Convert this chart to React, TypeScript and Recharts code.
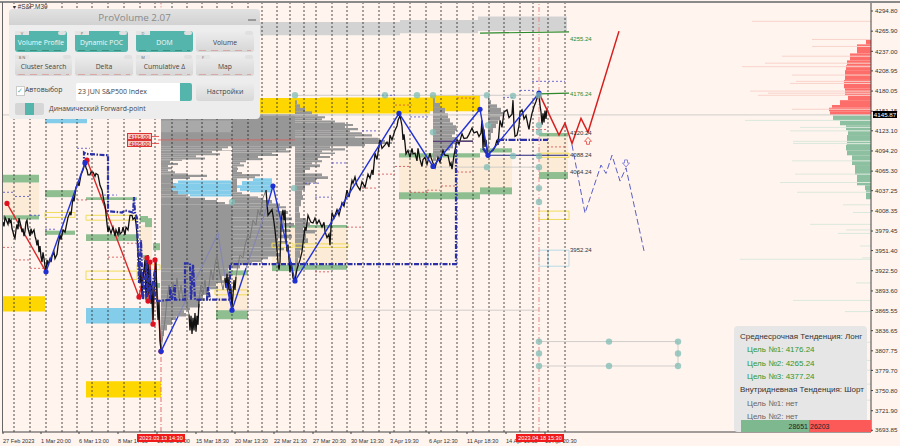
import {
	ComposedChart,
	Line,
	Scatter,
	XAxis,
	YAxis,
	ReferenceArea,
	ReferenceLine,
	ReferenceDot,
} from "recharts";

type Pair = [number, number];
type Zone = [number, number, number, number];
type Dash = [number, number, number];

const priceTicks = [
	4294.8, 4265.9, 4237.0, 4208.95, 4180.05, 4151.15, 4123.1, 4094.2, 4065.3, 4037.25, 4008.35,
	3979.45, 3951.4, 3922.5, 3893.6, 3865.55, 3836.65, 3807.75, 3779.7, 3750.8, 3721.9, 3693.85,
];
const timeBars = [3, 41, 79, 118, 157, 196, 235, 274, 313, 351, 390, 429, 467, 506, 545];
const timeLabels = [
	"27 Feb 2023", "1 Mar 20:00", "6 Mar 13:00", "8 Mar 17:00", "13 Mar 13:00", "15 Mar 18:30", "20 Mar 13:30",
	"22 Mar 21:30", "27 Mar 20:30", "30 Mar 13:30", "3 Apr 19:30", "6 Apr 12:30", "11 Apr 18:30", "14 Apr 16:30", "19 Apr 20:30",
];
const sessionBars = [
	14, 30, 46, 62, 77, 92, 108, 124, 140, 155, 172, 187, 202, 217, 232, 248, 262, 277, 290, 304, 316, 332, 347,
	363, 379, 394, 410, 426, 441, 457, 473, 489, 504, 520, 533, 548, 565,
];

// x1, x2, top, bottom
const grayZones: Zone[] = [[260, 400, 4279, 4260], [400, 478, 4282, 4263], [478, 567, 4287, 4266]];
const goldZones: Zone[] = [
	[3, 45, 3886, 3864], [86, 161, 3764, 3741], [260, 320, 4170, 4148], [320, 430, 4171, 4148], [430, 480, 4174, 4151],
];
const skyZones: Zone[] = [[86, 152, 3869, 3847], [45, 87, 4140, 4134]];
const creamZones: Zone[] = [
	[3, 39, 4049, 4002], [140, 152, 3988, 3938], [216, 248, 3916, 3866], [272, 347, 3988, 3931], [399, 512, 4085, 4035], [539, 568, 4115, 4064],
];
const greenZones: Zone[] = [
	[3, 39, 4060, 4049], [3, 39, 4002, 3996], [45, 75, 4038, 4028], [45, 75, 3980, 3974], [86, 137, 4028, 4024],
	[86, 137, 3975, 3965], [140, 148, 4001, 3992], [145, 152, 3998, 3985], [153, 160, 3962, 3952], [143, 148, 3945, 3938],
	[156, 160, 3905, 3898], [216, 248, 3923, 3916], [216, 248, 3866, 3853], [272, 347, 3988, 3984], [272, 300, 3931, 3922],
	[300, 347, 3931, 3924], [399, 480, 4035, 4025], [480, 512, 4042, 4032], [399, 480, 4091, 4085], [480, 512, 4098, 4092],
	[539, 568, 4120, 4115], [539, 568, 4064, 4054],
];
const yellowBoxes: Zone[] = [
	[45, 75, 4006, 3999], [86, 137, 4002, 3995], [86, 137, 3922, 3910], [137, 160, 3931, 3924], [215, 248, 3895, 3888],
	[272, 293, 3962, 3956], [295, 348, 3961, 3956], [539, 548, 4091, 4085], [548, 569, 4091, 4085], [539, 548, 4008, 3996], [548, 569, 4008, 3996],
];
const paleBlueBoxes: Zone[] = [[539, 548, 3952, 3929], [548, 569, 3952, 3929]];
const fadedBand: Zone[] = [[161, 232, 4138, 4121]];

// volume profiles: price of row top, bar where the row ends
const profileAStart = 161;
const profileA: Pair[] = [
	[4140, 232], [4101, 228], [4098, 222], [4095, 232], [4094, 212], [4091, 220], [4088, 196], [4085, 205], [4082, 182],
	[4080, 170], [4077, 178], [4074, 168], [4071, 172], [4068, 168], [4065, 175], [4062, 188], [4060, 207], [4057, 190],
	[4054, 173], [4048, 176], [4041, 172], [4037, 178], [4032, 186], [4029, 190], [4027, 205], [4024, 217], [4021, 225],
	[4018, 232], [3926, 228], [3921, 232], [3915, 222], [3909, 224], [3905, 216], [3900, 218], [3896, 208], [3892, 210],
	[3888, 203], [3883, 205], [3879, 198], [3875, 200], [3870, 190], [3866, 184], [3862, 186], [3857, 176], [3852, 172],
	[3845, 167], [3837, 164], [3829, 162], [3820, 161],
];
const profileBStart = 232;
const profileB: Pair[] = [
	[4147, 295], [4101, 292], [4098, 286], [4095, 290], [4092, 272], [4090, 278], [4087, 258], [4084, 262], [4081, 246],
	[4078, 240], [4075, 244], [4072, 237], [4070, 238], [4067, 237], [4064, 242], [4061, 260], [4058, 255], [4055, 237],
	[4035, 242], [4032, 250], [4029, 258], [4027, 263], [4024, 272], [4019, 280], [4015, 286], [4012, 278], [4008, 288],
	[4004, 282], [3999, 292], [3995, 284], [3991, 294], [3986, 282], [3982, 290], [3978, 280], [3974, 292], [3969, 278],
	[3965, 288], [3961, 280], [3956, 284], [3952, 276], [3948, 280], [3943, 268], [3939, 262], [3935, 252], [3931, 240], [3926, 232],
];
const profileCStart = 295;
const profileC: Pair[] = [
	[4167, 297], [4161, 300], [4156, 305], [4151, 312], [4147, 318], [4144, 325], [4141, 322], [4138, 335], [4135, 345],
	[4133, 353], [4130, 345], [4127, 358], [4124, 350], [4121, 362], [4118, 372], [4115, 355], [4113, 378], [4110, 385],
	[4107, 392], [4104, 365], [4101, 330], [4098, 345], [4095, 322], [4092, 335], [4090, 320], [4087, 330], [4084, 318],
	[4081, 322], [4078, 312], [4075, 320], [4071, 310], [4067, 305], [4062, 322], [4058, 328], [4054, 316], [4049, 310],
	[4045, 305], [4038, 302], [4031, 303], [4024, 301], [4015, 299], [4006, 300], [3998, 306], [3992, 310], [3986, 303],
	[3981, 315], [3976, 306], [3969, 308], [3962, 303], [3952, 300], [3941, 298], [3926, 296], [3912, 295],
];
const profileDStart = 433;
const profileD: Pair[] = [
	[4170, 435], [4163, 440], [4156, 445], [4148, 448], [4141, 450], [4135, 453], [4131, 456], [4127, 457], [4123, 455],
	[4118, 452], [4114, 456], [4110, 473], [4108, 458], [4104, 453], [4098, 450], [4095, 445], [4091, 440], [4085, 436], [4080, 433],
];
const profileEStart = 488;
const profileE: Pair[] = [
	[4174, 489], [4167, 491], [4161, 497], [4156, 501], [4150, 503], [4144, 500], [4138, 498], [4133, 496], [4127, 493], [4120, 491], [4110, 489], [4095, 488],
];
const skyRowsA: Pair[] = [[4052, 178], [4048, 173], [4044, 176], [4041, 172], [4037, 178], [4032, 190], [4029, 232]];
const skyRowsB: Pair[] = [[4055, 253], [4051, 242], [4045, 237], [4041, 240], [4037, 250], [4035, 272]];

// order book on the right: price of row top, bar where the row starts
const askRows: Pair[] = [
	[4254, 866], [4247, 857], [4234, 850], [4224, 847], [4217, 846], [4210, 845], [4196, 844], [4184, 845], [4174, 848],
	[4167, 840], [4160, 832], [4156, 829], [4151, 830], [4146, 871],
];
const bidRows: Pair[] = [
	[4145, 833], [4138, 840], [4131, 846], [4124, 848], [4117, 847], [4103, 846], [4095, 847], [4088, 852], [4074, 855],
	[4060, 857], [4045, 865], [4038, 866], [4025, 871],
];
const askSpikes: Pair[] = [
	[4280, 752], [4254, 812], [4244, 812], [4230, 782], [4220, 765], [4215, 742], [4203, 792], [4194, 796], [4191, 790],
	[4180, 750], [4177, 768], [4174, 758], [4154, 792],
];
const bidSpikes: Pair[] = [
	[4138, 745], [4128, 800], [4123, 790], [4108, 793], [4105, 793], [4080, 792], [4061, 795], [4049, 780], [4035, 797],
	[4017, 843], [4006, 853], [3989, 810], [3981, 846], [3976, 838], [3958, 860], [3941, 862], [3939, 740], [3905, 856],
	[3880, 793], [3864, 845], [3820, 833], [3794, 832], [3780, 848], [3760, 820], [3737, 855],
];

// x1, x2, price
const blueDashes: Dash[] = [
	[3, 14, 4035], [15, 30, 4029], [30, 40, 4002], [45, 57, 3982], [100, 117, 4031], [77, 90, 4098], [362, 378, 4123],
	[332, 348, 4077], [305, 320, 4048], [315, 332, 4028], [410, 428, 4143], [378, 395, 4174], [532, 565, 4194],
	[520, 533, 4181], [503, 513, 4171],
];
const redDashes: Dash[] = [
	[3, 12, 3956], [15, 30, 3938], [30, 45, 3926], [77, 87, 4024], [108, 123, 3942], [127, 137, 3962], [378, 395, 4061],
	[362, 378, 4041], [347, 363, 3985], [315, 332, 3921], [395, 410, 4072], [410, 428, 4035], [427, 440, 4038],
	[441, 455, 4044], [457, 473, 4064], [395, 412, 4160], [457, 475, 4170], [532, 547, 4125], [547, 565, 4100],
];
const grayLevels: Dash[] = [
	[2, 871, 4145.87], [295, 540, 4174], [433, 539, 4071], [232, 539, 3866], [539, 678, 3821], [539, 678, 3786],
];
const tealDots: Pair[] = [
	[295, 4174], [385, 4174], [417, 4174], [433, 4174], [487, 4174], [513, 4173], [539, 4174], [433, 4121], [488, 4131],
	[539, 4131], [539, 4121], [513, 4087], [539, 4087], [487, 4071], [539, 4071], [539, 4041], [539, 4021], [294, 4041],
	[232, 4021], [539, 3821], [609, 3821], [678, 3821], [539, 3804], [678, 3804], [539, 3786], [609, 3786], [678, 3786],
];

const redSwings: Pair[] = [[7, 4019], [46, 3921]];
const blueSwingUp: Pair[] = [[46, 3921], [85, 4077]];
const redSwingsDown: Pair[] = [
	[87, 4081], [139, 3885], [147, 3941], [148, 3879], [150, 3935], [153, 3846], [155, 3938], [161, 3807],
];
const blueSwingStart: Pair[] = [[161, 3807], [178, 3857]];
const blueSwingHiddenA: Pair[] = [[178, 3857], [218, 3976], [226, 3905]];
const blueSwingLow: Pair[] = [[226, 3905], [232, 3866], [246, 3926]];
const blueSwingHiddenB: Pair[] = [[246, 3926], [267, 4014]];
const blueSwings: Pair[] = [
	[267, 4014], [273, 4044], [295, 3908], [399, 4148], [433, 4072], [480, 4154], [488, 4088], [539, 4177],
];
const blueVertices: Pair[] = [
	[46, 3921], [85, 4077], [161, 3807], [232, 3866], [273, 4044], [295, 3908], [399, 4148], [433, 4072], [480, 4154], [488, 4088], [539, 4177],
];
const redDotsList: Pair[] = [
	[7, 4019], [87, 4081], [139, 3885], [147, 3941], [148, 3879], [150, 3935], [153, 3846], [155, 3938], [161, 3807],
];
const forecastRed: Pair[] = [[539, 4177], [559, 4117], [565, 4134], [572, 4105], [581, 4141], [588, 4121], [619, 4266]];
const forecastBlue: Pair[] = [[572, 4103], [585, 4005], [601, 4074], [606, 4062], [612, 4088], [620, 4051], [626, 4070], [644, 3951]];

const pocPath: Pair[] = [
	[84, 4074], [84, 4092], [86, 4090], [108, 4088], [108, 4008], [122, 4006], [125, 4009], [133, 4006], [134, 4028],
	[135, 4006], [137, 3998], [139, 3905], [141, 3966], [143, 3881], [147, 3941], [147, 3885], [150, 3924], [150, 3881],
	[155, 3924], [155, 3881], [158, 3879], [170, 3881], [170, 3899], [172, 3881], [175, 3902], [175, 3881], [185, 3881],
	[185, 3933], [190, 3933], [191, 3881], [193, 3931], [195, 3881], [207, 3881], [208, 3899], [210, 3881], [230, 3881],
	[230, 3932], [310, 3932], [456, 3932], [456, 4105],
];
const pocPathLate: Pair[] = [[483, 4098], [488, 4088]];
const pocLevel: Pair[] = [[497, 4110], [548, 4110]];
const navyLevel: Pair[] = [[488, 4088], [568, 4088]];
const purpleLevel: Pair[] = [[433, 4108], [473, 4108]];

const priceMain: Pair[] = [
	[3, 3992], [4, 3986], [5, 3999], [6, 3996], [8, 3989], [9, 3998], [10, 3992], [11, 3995], [12, 3983], [13, 3978], [14, 3972], [15, 3969],
	[16, 3981], [17, 3989], [18, 3982], [19, 3998], [20, 3992], [21, 3986], [22, 3978], [23, 3983], [24, 3972], [25, 3979], [26, 3992], [27, 3995],
	[28, 3983], [29, 3978], [30, 3972], [31, 3983], [32, 3976], [34, 3981], [35, 3972], [36, 3967], [37, 3959], [38, 3967], [39, 3949], [40, 3958],
	[41, 3943], [42, 3935], [43, 3949], [44, 3940], [45, 3929], [46, 3921], [47, 3938], [48, 3932], [50, 3940], [51, 3935], [52, 3943], [54, 3949],
	[55, 3940], [57, 3946], [58, 3958], [60, 3974], [61, 3967], [63, 3981], [65, 3978], [67, 3992], [68, 3999], [70, 4006], [71, 4002], [73, 4028],
	[74, 4022], [76, 4042], [78, 4049], [79, 4044], [81, 4060], [83, 4067], [85, 4077], [86, 4070], [87, 4067], [88, 4060], [90, 4060], [91, 4064],
	[93, 4064], [95, 4058], [96, 4062], [98, 4060], [100, 4045], [102, 4038], [104, 4022], [105, 4017], [106, 4004], [107, 3990], [108, 3978], [109, 3985],
	[111, 3976], [113, 3985], [115, 3972], [116, 3981], [118, 3974], [119, 3985], [120, 3975], [122, 3978], [123, 3985], [125, 3974], [126, 3985], [128, 3981],
	[129, 3992], [130, 4002], [132, 4002], [133, 3996], [135, 3999], [136, 3990], [137, 3975], [138, 3950], [139, 3930], [140, 3905], [141, 3925], [142, 3885],
	[143, 3912], [145, 3938], [146, 3881], [147, 3909], [148, 3945], [149, 3888], [150, 3924], [151, 3875], [152, 3902], [153, 3852], [154, 3895], [156, 3935],
	[157, 3881], [158, 3852], [159, 3881], [160, 3823], [161, 3809],
];
const priceFaintA: Pair[] = [
	[161, 3809], [163, 3831], [165, 3852], [167, 3881], [169, 3902], [171, 3881], [173, 3906], [175, 3888], [177, 3912], [179, 3883], [181, 3902], [183, 3881],
	[185, 3895], [187, 3875], [189, 3860],
];
const priceLowA: Pair[] = [
	[189, 3860], [190, 3837], [191, 3858], [192, 3832], [193, 3855], [194, 3837], [195, 3862], [196, 3835], [197, 3858], [198, 3845], [199, 3881],
];
const priceFaintB: Pair[] = [
	[199, 3881], [201, 3902], [203, 3888], [205, 3909], [207, 3881], [209, 3902], [211, 3924], [213, 3909], [215, 3931], [217, 3945], [219, 3924], [221, 3909],
	[223, 3895], [225, 3912],
];
const priceLowB: Pair[] = [
	[225, 3912], [226, 3898], [227, 3918], [228, 3895], [229, 3914], [230, 3881], [231, 3898], [232, 3869], [233, 3888], [234, 3909], [235, 3895], [236, 3914],
];
const priceFaintC: Pair[] = [
	[236, 3914], [238, 3931], [240, 3945], [243, 3941], [245, 3959], [248, 3974], [250, 3969], [253, 3995], [256, 3988], [258, 4010], [260, 4002], [263, 4027], [266, 4038],
];
const priceLate: Pair[] = [
	[266, 4038], [268, 4002], [270, 4006], [272, 4010], [273, 4002], [274, 3992], [275, 3981], [276, 3966], [277, 3952], [278, 3935], [279, 3924], [280, 3935],
	[281, 3988], [282, 4002], [283, 4010], [284, 3995], [285, 4010], [286, 3970], [287, 3950], [288, 3960], [289, 3938], [290, 3920], [291, 3935], [292, 3925],
	[293, 3912], [295, 3908], [297, 3925], [300, 3938], [302, 3950], [303, 3962], [305, 3985], [306, 3980], [308, 4002], [310, 3995], [311, 3992], [313, 3991],
	[315, 3998], [317, 3990], [319, 3995], [322, 3985], [324, 3992], [325, 3979], [327, 3970], [329, 3975], [330, 3959], [331, 3985], [332, 4006], [334, 3998],
	[337, 4010], [339, 4002], [342, 4020], [344, 4015], [347, 4038], [349, 4028], [352, 4052], [353, 4048], [355, 4057], [357, 4045], [360, 4038], [362, 4050],
	[365, 4042], [368, 4061], [370, 4055], [372, 4067], [373, 4060], [375, 4091], [377, 4082], [380, 4110], [382, 4098], [385, 4103], [387, 4107], [389, 4100],
	[390, 4117], [392, 4110], [395, 4124], [397, 4130], [398, 4138], [400, 4145], [402, 4130], [403, 4110], [404, 4118], [405, 4105], [406, 4090], [408, 4095],
	[410, 4085], [412, 4098], [413, 4090], [415, 4091], [417, 4080], [418, 4098], [420, 4082], [422, 4072], [423, 4082], [425, 4085], [427, 4075], [430, 4091],
	[431, 4085], [433, 4077], [435, 4070], [438, 4085], [440, 4078], [443, 4095], [445, 4088], [448, 4088], [450, 4074], [451, 4077], [452, 4068], [454, 4088],
	[455, 4095], [457, 4110], [459, 4104], [462, 4119], [464, 4112], [467, 4113], [469, 4118], [472, 4127], [474, 4120], [477, 4122], [479, 4115], [481, 4120],
	[482, 4138], [483, 4098], [484, 4125], [485, 4100], [486, 4110], [488, 4085], [490, 4092], [493, 4095], [495, 4100], [497, 4110], [498, 4103], [500, 4138],
	[502, 4128], [504, 4150], [507, 4153], [509, 4142], [512, 4147], [513, 4167], [514, 4130], [515, 4115], [517, 4117], [519, 4130], [520, 4150], [522, 4153],
	[524, 4140], [526, 4145], [528, 4131], [529, 4125], [530, 4135], [532, 4148], [534, 4158], [536, 4165], [538, 4174], [539, 4176], [540, 4160], [541, 4150],
	[542, 4132], [543, 4148], [544, 4135], [545, 4152], [546, 4140], [547, 4156],
];

const levelLabels: { bar: number; price: number; text: string; color: string }[] = [
	{ bar: 570, price: 4255.24, text: "4255.24", color: "#2b8a2b" },
	{ bar: 570, price: 4176.24, text: "4176.24", color: "#2b8a2b" },
	{ bar: 570, price: 4120.24, text: "4120.24", color: "#333" },
	{ bar: 570, price: 4088.24, text: "4088.24", color: "#333" },
	{ bar: 570, price: 4064.24, text: "4064.24", color: "#333" },
	{ bar: 570, price: 3952.24, text: "3952.24", color: "#333" },
];

const topButtons = [
	{ text: "Volume Profile", left: 15, width: 52, top: 31, on: true, tag: "V" },
	{ text: "Dynamic POC", left: 75, width: 53, top: 31, on: true, tag: "P" },
	{ text: "DOM", left: 136, width: 57, top: 31, on: true, tag: "D" },
	{ text: "Volume", left: 196, width: 58, top: 31, on: false, tag: "" },
	{ text: "Cluster Search", left: 15, width: 57, top: 55, on: false, tag: "B N" },
	{ text: "Delta", left: 75, width: 58, top: 55, on: false, tag: "" },
	{ text: "Cumulative Δ", left: 136, width: 57, top: 55, on: false, tag: "M" },
	{ text: "Map", left: 196, width: 58, top: 55, on: false, tag: "F" },
];
const trendLines = [
	{ text: "Среднесрочная Тенденция: Лонг", color: "#333", indent: 0 },
	{ text: "Цель №1: 4176.24", color: "#2f962f", indent: 7 },
	{ text: "Цель №2: 4265.24", color: "#2f962f", indent: 7 },
	{ text: "Цель №3: 4377.24", color: "#2f962f", indent: 7 },
	{ text: "Внутридневная Тенденция: Шорт", color: "#333", indent: 0 },
	{ text: "Цель №1: нет", color: "#666", indent: 7 },
	{ text: "Цель №2: нет", color: "#666", indent: 7 },
];

const toPoints = (list: Pair[]) => list.map(([x, y]) => ({ x, y }));

function rowAreas(rows: Pair[], start: number, fill: string, key: string) {
	return rows.slice(0, -1).map(([price, end], i) => (
		<ReferenceArea key={`${key}-${i}`} x1={start} x2={end} y1={rows[i + 1][0]} y2={price} fill={fill} fillOpacity={1} stroke='none' />
	));
}

function skyAreas(rows: Pair[], end: number, key: string) {
	return rows.slice(0, -1).map(([price, start], i) => (
		<ReferenceArea key={`${key}-${i}`} x1={start} x2={end} y1={rows[i + 1][0]} y2={price} fill='#84cdea' fillOpacity={1} stroke='none' />
	));
}

function bookAreas(rows: Pair[], fill: string, key: string) {
	return rows.slice(0, -1).map(([price, start], i) => (
		<ReferenceArea key={`${key}-${i}`} x1={start} x2={871} y1={rows[i + 1][0]} y2={price} fill={fill} fillOpacity={1} stroke='none' />
	));
}

function zoneAreas(zones: Zone[], fill: string, key: string, stroke = "none") {
	return zones.map(([x1, x2, top, bottom], i) => (
		<ReferenceArea key={`${key}-${i}`} x1={x1} x2={x2} y1={bottom} y2={top} fill={fill} fillOpacity={fill === "none" ? 0 : 1} stroke={stroke} strokeWidth={1} />
	));
}

function segments(dashes: Dash[], stroke: string, key: string, dash?: string, width = 0.8) {
	return dashes.map(([x1, x2, price], i) => (
		<ReferenceLine
			key={`${key}-${i}`}
			segment={[{ x: x1, y: price }, { x: x2, y: price }]}
			stroke={stroke}
			strokeWidth={width}
			strokeDasharray={dash}
		/>
	));
}

function spikes(rows: Pair[], stroke: string, key: string) {
	return rows.map(([price, start], i) => (
		<ReferenceLine key={`${key}-${i}`} segment={[{ x: start, y: price }, { x: 871, y: price }]} stroke={stroke} strokeWidth={1} />
	));
}

function TimeTick({ x, y, payload }: any) {
	const label = timeLabels[timeBars.indexOf(payload.value)];
	return (
		<text x={x} y={y + 7} fontSize={5.6} fontFamily='Liberation Sans' fill='#333' textAnchor='start'>
			{label}
		</text>
	);
}

function line(list: Pair[], stroke: string, width: number, key: string, dash?: string) {
	return (
		<Line
			key={key}
			data={toPoints(list)}
			dataKey='y'
			type='linear'
			stroke={stroke}
			strokeWidth={width}
			strokeDasharray={dash}
			dot={false}
			isAnimationActive={false}
			legendType='none'
		/>
	);
}

function Panel() {
	return (
		<div style={{ position: "absolute", left: 9, top: 9, width: 251, height: 110, background: "#ededed", borderRadius: 4, fontFamily: "Open Sans", color: "#444" }}>
			<div style={{ height: 16, background: "linear-gradient(#e2e2e2,#d2d2d2)", borderRadius: "4px 4px 0 0", textAlign: "center", fontSize: 9.8, lineHeight: "17px", color: "#8a8a8a" }}>
				ProVolume 2.07
			</div>
			<div style={{ position: "absolute", left: 239, top: 10, width: 8, height: 1.5, background: "#999" }} />
			{topButtons.map((b) => (
				<div
					key={b.text}
					style={{
						position: "absolute",
						left: b.left - 9,
						top: b.top - 9,
						width: b.width,
						height: 21,
						borderRadius: 3,
						background: b.on ? "#54b5ad" : "linear-gradient(#ededed,#d6d6d6)",
						color: b.on ? "#f2fbfa" : "#444",
						fontSize: 6.8,
						lineHeight: "23px",
						textAlign: "center",
						whiteSpace: "nowrap",
					}}>
					{b.text}
					<div style={{ position: "absolute", left: 0, top: 0, fontSize: 4, lineHeight: "5px", width: b.tag ? 14 : 0, height: 4, background: "#e4e4e4", color: "#666", overflow: "hidden" }}>
						{b.tag}
					</div>
					<div style={{ position: "absolute", right: 1, top: 0, width: 8, height: 4, borderRadius: 2, background: "#e0e0e0" }} />
					<div style={{ position: "absolute", left: 3, right: 3, bottom: 1, height: 0.7, background: b.on ? "repeating-linear-gradient(90deg,#3f8f7d 0 7px,transparent 7px 12px)" : "repeating-linear-gradient(90deg,#d8a9a4 0 7px,transparent 7px 12px)" }} />
				</div>
			))}
			<div style={{ position: "absolute", left: 7, top: 77, width: 7, height: 8, background: "#fff", border: "1px solid #ccc", color: "#54b5ad", fontSize: 7, lineHeight: "7px" }}>✓</div>
			<div style={{ position: "absolute", left: 16, top: 75, fontSize: 6.9, lineHeight: "12px" }}>Автовыбор</div>
			<div style={{ position: "absolute", left: 67, top: 74, width: 116, height: 18, background: "#fff", borderRadius: 2, fontSize: 7, lineHeight: "18px", paddingLeft: 2, boxSizing: "border-box" }}>
				23 JUN S&amp;P500 Index
				<div style={{ position: "absolute", right: 0, top: 0, width: 12, height: 18, background: "#54b5ad", borderRadius: "0 2px 2px 0" }} />
			</div>
			<div style={{ position: "absolute", left: 187, top: 74, width: 58, height: 18, background: "linear-gradient(#ececec,#d8d8d8)", borderRadius: 3, fontSize: 7, lineHeight: "18px", textAlign: "center" }}>
				Настройки
			</div>
			<div style={{ position: "absolute", left: 6, top: 94, width: 29, height: 12, background: "#d6d6d6", borderRadius: 2 }}>
				<div style={{ position: "absolute", left: 10, top: 0, width: 9, height: 12, background: "#54b5ad" }} />
			</div>
			<div style={{ position: "absolute", left: 40, top: 94, fontSize: 6.8, lineHeight: "12px", whiteSpace: "nowrap" }}>Динамический Forward-point</div>
		</div>
	);
}

function TrendBox() {
	return (
		<div style={{ position: "absolute", left: 734, top: 326, width: 133, height: 106, background: "#e6e6e6", borderRadius: 4, fontFamily: "Liberation Sans" }}>
			{trendLines.map((t, i) => (
				<div key={i} style={{ position: "absolute", left: 6 + t.indent, top: 5 + i * 13.3, fontSize: 8, lineHeight: "12px", color: t.color, whiteSpace: "nowrap" }}>
					{t.text}
				</div>
			))}
			<div style={{ position: "absolute", left: 7, top: 94, width: 68, height: 12, background: "#7db88f", fontSize: 7, lineHeight: "13px", textAlign: "right", paddingRight: 1, boxSizing: "border-box", color: "#222" }}>28651</div>
			<div style={{ position: "absolute", left: 75, top: 94, width: 62, height: 12, background: "#fb5a58", fontSize: 7, lineHeight: "13px", paddingLeft: 1, boxSizing: "border-box", color: "#222" }}>26203</div>
		</div>
	);
}

function Stamp({ left, text }: { left: number; text: string }) {
	return (
		<div style={{ position: "absolute", left, top: 434, width: 48, height: 8, background: "#f01a1a", color: "#fff", fontFamily: "Liberation Sans", fontSize: 5.6, lineHeight: "8px", textAlign: "center", whiteSpace: "nowrap" }}>
			{text}
		</div>
	);
}

function StrikeTag({ top, text }: { top: number; text: string }) {
	return (
		<div style={{ position: "absolute", left: 127, top, width: 25, height: 6.5, background: "#f7c9c4", border: "0.5px solid #d33", boxSizing: "border-box", color: "#c00", fontFamily: "Liberation Sans", fontSize: 5.6, lineHeight: "6px", textAlign: "center" }}>
			{text}
		</div>
	);
}

export default function App() {
	return (
		<div style={{ position: "fixed", left: 0, top: 0, width: 900, height: 446, background: "#fff4ee", overflow: "hidden" }}>
			<ComposedChart width={900} height={446} margin={{ top: 2, right: 0, bottom: 0, left: 2 }} data={[]}>
				<XAxis
					dataKey='x'
					type='number'
					domain={[2, 871]}
					ticks={timeBars}
					interval={0}
					height={14}
					tick={<TimeTick />}
					tickSize={2}
					stroke='#444'
					allowDataOverflow
				/>
				<YAxis
					dataKey='y'
					type='number'
					orientation='right'
					domain={[3691.4, 4307.7]}
					ticks={priceTicks}
					interval={0}
					width={29}
					tickSize={2}
					stroke='#444'
					tick={{ fontSize: 6.2, fontFamily: "Liberation Sans", fill: "#333" }}
					tickFormatter={(v: number) => v.toFixed(2)}
					allowDataOverflow
				/>
				{zoneAreas(grayZones, "#d3d3d3", "gray")}
				{zoneAreas(creamZones, "#fcebd6", "cream")}
				{zoneAreas(greenZones, "#8fbf91", "green")}
				{zoneAreas(goldZones, "#ffd700", "gold")}
				{zoneAreas(skyZones, "#84cdea", "sky")}
				{spikes(askSpikes, "#f9d3cb", "askSpike")}
				{spikes(bidSpikes, "#dbe8dd", "bidSpike")}
				{bookAreas(askRows, "#fd6e6b", "ask")}
				{bookAreas(bidRows, "#8dc0a0", "bid")}
				{rowAreas(profileA, profileAStart, "#979797", "pa")}
				{rowAreas(profileB, profileBStart, "#979797", "pb")}
				{rowAreas(profileC, profileCStart, "#979797", "pc")}
				{rowAreas(profileD, profileDStart, "#979797", "pd")}
				{rowAreas(profileE, profileEStart, "#979797", "pe")}
				{zoneAreas(fadedBand, "#a9a9a9", "faded")}
				{skyAreas(skyRowsA, 232, "skyA")}
				{skyAreas(skyRowsB, 272, "skyB")}
				{zoneAreas(yellowBoxes, "none", "yellow", "#f0dc5a")}
				{zoneAreas(paleBlueBoxes, "none", "pale", "#b8dbe6")}
				{sessionBars.map((bar) => (
					<ReferenceLine key={bar} x={bar} stroke='#222' strokeWidth={0.8} strokeDasharray='2 2' />
				))}
				{segments(grayLevels, "#d0cdca", "level", undefined, 1)}
				<ReferenceLine segment={[{ x: 678, y: 3821 }, { x: 678, y: 3786 }]} stroke='#d0cdca' />
				{segments(blueDashes, "#4a4ad0", "bd", "2 2")}
				{segments(redDashes, "#d84a4a", "rd", "2 2")}
				<ReferenceLine segment={[{ x: 158, y: 4110 }, { x: 295, y: 4110 }]} stroke='#d9605c' strokeWidth={0.8} />
				<ReferenceLine segment={[{ x: 152, y: 4115 }, { x: 159, y: 4115 }]} stroke='#d33' strokeWidth={0.8} />
				<ReferenceLine segment={[{ x: 152, y: 4105 }, { x: 159, y: 4105 }]} stroke='#d33' strokeWidth={0.8} />
				<ReferenceLine segment={[{ x: 161, y: 3691.4 }, { x: 161, y: 3810 }]} stroke='#e07070' strokeWidth={1} strokeDasharray='5 2 1 2' />
				<ReferenceLine segment={[{ x: 161, y: 4290 }, { x: 161, y: 4307 }]} stroke='#e07070' strokeWidth={1} strokeDasharray='5 2 1 2' />
				<ReferenceLine x={539} stroke='#e58a86' strokeWidth={1} strokeDasharray='5 2 1 2' />
				<ReferenceLine segment={[{ x: 480, y: 4263 }, { x: 569, y: 4265 }]} stroke='#2b8a2b' strokeWidth={1.2} />
				<ReferenceLine segment={[{ x: 539, y: 4176 }, { x: 569, y: 4177 }]} stroke='#2b8a2b' strokeWidth={1.2} />
				{levelLabels.map((l) => (
					<ReferenceDot
						key={l.text}
						x={l.bar}
						y={l.price}
						r={0}
						stroke='none'
						label={{ value: l.text, position: "right", offset: 0, fontSize: 6, fontFamily: "Liberation Sans", fill: l.color }}
					/>
				))}
				{line(redSwings, "#dc2a2a", 1.4, "redA")}
				{line(redSwingsDown, "#dc2a2a", 1.4, "redB")}
				{line(blueSwingHiddenA, "#8486b4", 1.1, "blueHiddenA")}
				{line(blueSwingHiddenB, "#8486b4", 1.1, "blueHiddenB")}
				{line(priceFaintA, "#7a7a7a", 1, "faintA")}
				{line(priceFaintB, "#7a7a7a", 1, "faintB")}
				{line(priceFaintC, "#7a7a7a", 1, "faintC")}
				{line(priceMain, "#111", 1.3, "priceMain")}
				{line(priceLowA, "#111", 1.3, "lowA")}
				{line(priceLowB, "#111", 1.3, "lowB")}
				{line(priceLate, "#111", 1.3, "priceLate")}
				{line(pocPath, "#2b30a6", 2.2, "poc", "5 1.5 1.5 1.5")}
				{line(pocPathLate, "#2b30a6", 2.5, "pocLate")}
				{line(pocLevel, "#2b30a6", 2.2, "pocLevel", "7 1.5 1.5 1.5")}
				{line(navyLevel, "#20247e", 1.1, "navy")}
				{line(purpleLevel, "#5a3f7a", 1.4, "purple")}
				{line(blueSwingUp, "#2233d8", 1.4, "blueA")}
				{line(blueSwingStart, "#2233d8", 1.4, "blueStart")}
				{line(blueSwingLow, "#2233d8", 1.4, "blueLow")}
				{line(blueSwings, "#2233d8", 1.4, "blueB")}
				{line(forecastRed, "#d81e1e", 1.5, "forecastRed")}
				{line(forecastBlue, "#5a5fc8", 1, "forecastBlue", "6 3")}
				<Scatter data={toPoints(redDotsList)} fill='#e01020' shape={<Dot r={2.6} />} isAnimationActive={false} />
				<Scatter data={toPoints(blueVertices)} fill='#1f30d0' shape={<Dot r={2.6} />} isAnimationActive={false} />
				<Scatter data={toPoints(tealDots)} fill='#7fbcb4' fillOpacity={0.75} shape={<Dot r={3.2} />} isAnimationActive={false} />
				<Scatter data={[{ x: 588, y: 4108 }]} shape={<Arrow color='#e86a62' up />} isAnimationActive={false} />
				<Scatter data={[{ x: 626, y: 4077 }]} shape={<Arrow color='#8a8ae0' up={false} />} isAnimationActive={false} />
			</ComposedChart>
			<div style={{ position: "absolute", left: 0, top: 1, width: 900, height: 1.5, background: "#8a8a8a" }} />
			<div style={{ position: "absolute", left: 2, top: 2, width: 1, height: 430, background: "#666" }} />
			<div style={{ position: "absolute", left: 13, top: 3, fontFamily: "Liberation Sans", fontSize: 6.4, color: "#333", whiteSpace: "nowrap" }}>▾ #S&amp;P,M30</div>
			<Panel />
			<TrendBox />
			<StrikeTag top={133} text='4115.00' />
			<StrikeTag top={140} text='4105.00' />
			<Stamp left={137} text='2023.03.13 14:30' />
			<Stamp left={516} text='2023.04.18 15:30' />
			<div style={{ position: "absolute", left: 873, top: 111, width: 24, height: 7, background: "#000", color: "#fff", fontFamily: "Liberation Sans", fontSize: 6.2, lineHeight: "7px", textAlign: "center" }}>
				4145.87
			</div>
		</div>
	);
}

function Dot({ cx, cy, fill, fillOpacity, r }: any) {
	return <circle cx={cx} cy={cy} r={r} fill={fill} fillOpacity={fillOpacity} />;
}

function Arrow({ cx, cy, color, up }: any) {
	const s = up ? 1 : -1;
	return (
		<path
			d={`M${cx} ${cy - 4 * s}L${cx + 3.5} ${cy}L${cx + 1.5} ${cy}L${cx + 1.5} ${cy + 3 * s}L${cx - 1.5} ${cy + 3 * s}L${cx - 1.5} ${cy}L${cx - 3.5} ${cy}Z`}
			fill='#fff4ee'
			stroke={color}
			strokeWidth={1}
		/>
	);
}
